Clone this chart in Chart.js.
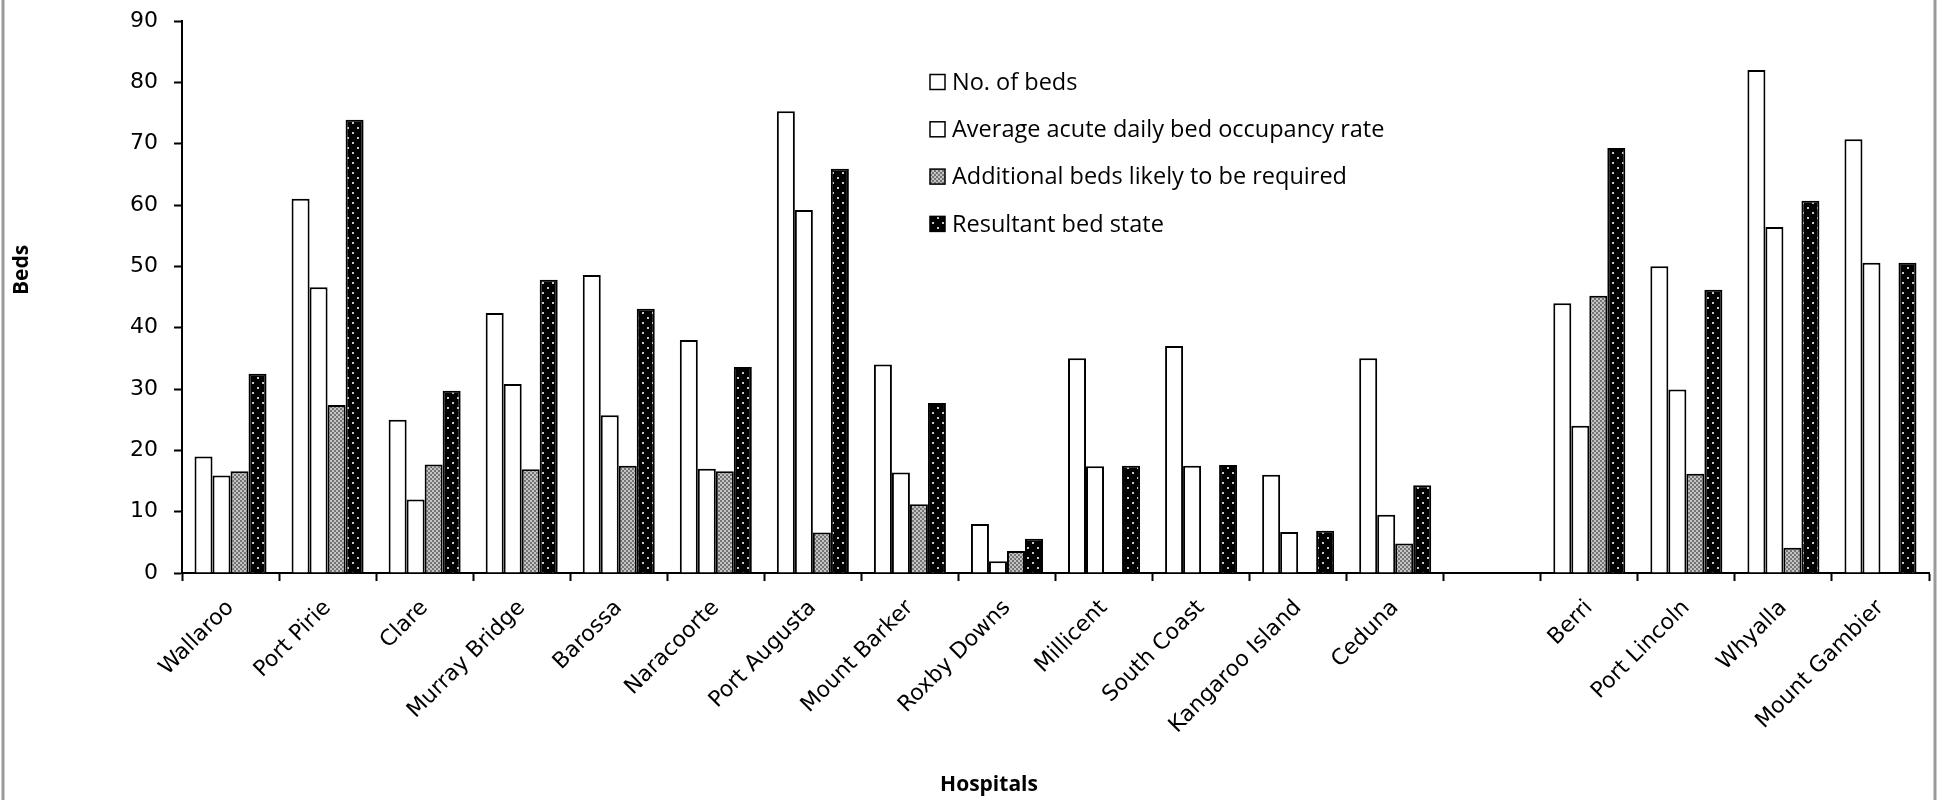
<!DOCTYPE html>
<html>
<head>
<meta charset="utf-8">
<title>Beds by hospital</title>
<script src="https://cdn.jsdelivr.net/npm/chart.js@4.4.1/dist/chart.umd.min.js"></script>
<style>
    html, body { margin: 0; padding: 0; background: #ffffff; }
    #wrap { width: 1939px; height: 800px; }
</style>
</head>
<body>
<div id="wrap"><canvas id="bedChart" width="1939" height="800"></canvas></div>
<script>
// hospitals (one empty slot between Ceduna and Berri, as in the original)
const hospitals = ["Wallaroo", "Port Pirie", "Clare", "Murray Bridge", "Barossa", "Naracoorte",
    "Port Augusta", "Mount Barker", "Roxby Downs", "Millicent", "South Coast", "Kangaroo Island",
    "Ceduna", "", "Berri", "Port Lincoln", "Whyalla", "Mount Gambier"];

const noOfBeds       = [19, 61, 25, 42.4, 48.6, 38, 75.3, 34, 8, 35, 37, 16, 35, null, 44, 50, 82, 70.7];
const avgOccupancy   = [15.9, 46.6, 12, 30.8, 25.7, 17, 59.2, 16.4, 1.9, 17.4, 17.5, 6.7, 9.5, null, 24, 29.9, 56.4, 50.6];
const additionalBeds = [16.6, 27.4, 17.7, 16.9, 17.5, 16.6, 6.6, 11.2, 3.6, 0, 0, 0, 4.8, null, 45.2, 16.2, 4.1, 0];
const resultantBeds  = [32.5, 73.9, 29.7, 47.8, 43.1, 33.6, 65.9, 27.7, 5.6, 17.5, 17.6, 6.9, 14.3, null, 69.3, 46.2, 60.7, 50.6];

const yTicks = [0, 10, 20, 30, 40, 50, 60, 70, 80, 90];

// fill patterns
function makePattern(size, draw) {
    const c = document.createElement("canvas");
    c.width = size;
    c.height = size;
    draw(c.getContext("2d"));
    return document.getElementById("bedChart").getContext("2d").createPattern(c, "repeat");
}

const greyChecker = makePattern(4, function (g) {
    g.fillStyle = "#c4c4c4";
    g.fillRect(0, 0, 4, 4);
    g.fillStyle = "#747474";
    g.fillRect(0, 0, 2, 2);
    g.fillRect(2, 2, 2, 2);
});

const blackDots = makePattern(10, function (g) {
    g.fillStyle = "#000000";
    g.fillRect(0, 0, 10, 10);
    g.fillStyle = "#c8c8c8";
    g.fillRect(2, 2, 2, 2);
    g.fillRect(7, 7, 2, 2);
});

// legend drawn inside the plot, like the original
const insideLegend = {
    id: "insideLegend",
    afterDraw(chart) {
        const ctx = chart.ctx;
        const x = 930, y0 = 82, step = 47.3, box = 15;
        ctx.save();
        ctx.font = "23.5px 'Open Sans'";
        ctx.textBaseline = "middle";
        ctx.textAlign = "left";
        chart.data.datasets.forEach(function (ds, i) {
            const y = y0 + i * step;
            ctx.fillStyle = ds.backgroundColor;
            ctx.fillRect(x, y - box / 2, box, box);
            ctx.lineWidth = 1.5;
            ctx.strokeStyle = "#000000";
            ctx.strokeRect(x, y - box / 2, box, box);
            ctx.fillStyle = "#000000";
            ctx.fillText(ds.label, x + 22, y + 1);
        });
        ctx.restore();
    }
};

// axis titles and the grey frame of the chart area
const frameAndTitles = {
    id: "frameAndTitles",
    afterDraw(chart) {
        const ctx = chart.ctx;
        ctx.save();
        ctx.strokeStyle = "#9a9a9a";
        ctx.lineWidth = 3;
        ctx.beginPath();
        ctx.moveTo(3, 0); ctx.lineTo(3, 800);
        ctx.moveTo(1935, 0); ctx.lineTo(1935, 800);
        ctx.stroke();

        ctx.fillStyle = "#000000";
        ctx.font = "bold 21px 'Open Sans'";
        ctx.textAlign = "center";
        ctx.textBaseline = "middle";
        ctx.fillText("Hospitals", 989, 785);

        ctx.translate(22, 270);
        ctx.rotate(-Math.PI / 2);
        ctx.fillText("Beds", 0, 0);
        ctx.restore();
    }
};

const barBase = {
    borderColor: "#000000",
    borderWidth: 2,
    borderSkipped: "start",
    categoryPercentage: 0.742,
    barPercentage: 1.0
};

new Chart(document.getElementById("bedChart"), {
    type: "bar",
    data: {
        labels: hospitals,
        datasets: [
            Object.assign({ label: "No. of beds", data: noOfBeds, backgroundColor: "#ffffff" }, barBase),
            Object.assign({ label: "Average acute daily bed occupancy rate", data: avgOccupancy, backgroundColor: "#ffffff" }, barBase),
            Object.assign({ label: "Additional beds likely to be required", data: additionalBeds, backgroundColor: greyChecker }, barBase),
            Object.assign({ label: "Resultant bed state", data: resultantBeds, backgroundColor: blackDots }, barBase)
        ]
    },
    options: {
        responsive: false,
        animation: false,
        devicePixelRatio: 1,
        layout: { padding: { top: 21, right: 10, left: 0, bottom: 0 } },
        plugins: {
            legend: { display: false },
            tooltip: { enabled: false }
        },
        scales: {
            x: {
                afterFit: function (scale) {
                    scale.height = 227;
                    scale.paddingLeft = 0;
                    scale.paddingRight = 0;
                },
                grid: {
                    display: true,
                    offset: true,
                    drawOnChartArea: false,
                    drawTicks: true,
                    tickLength: 8,
                    tickWidth: 2,
                    tickColor: "#000000"
                },
                border: { display: true, color: "#000000", width: 2 },
                ticks: {
                    autoSkip: false,
                    maxRotation: 45,
                    minRotation: 45,
                    padding: 14,
                    color: "#000000",
                    font: { family: "DejaVu Sans", size: 22 }
                }
            },
            y: {
                min: 0,
                max: 90,
                afterFit: function (scale) {
                    scale.width = 182;
                    scale.paddingTop = 0;
                    scale.paddingBottom = 0;
                },
                afterBuildTicks: function (scale) {
                    scale.ticks = yTicks.map(function (v) { return { value: v }; });
                },
                grid: {
                    display: true,
                    drawOnChartArea: false,
                    drawTicks: true,
                    tickLength: 8,
                    tickWidth: 2,
                    tickColor: "#000000"
                },
                border: { display: true, color: "#000000", width: 2 },
                ticks: {
                    padding: 16,
                    color: "#000000",
                    font: { family: "DejaVu Sans", size: 22 }
                }
            }
        }
    },
    plugins: [insideLegend, frameAndTitles]
});
</script>
</body>
</html>
